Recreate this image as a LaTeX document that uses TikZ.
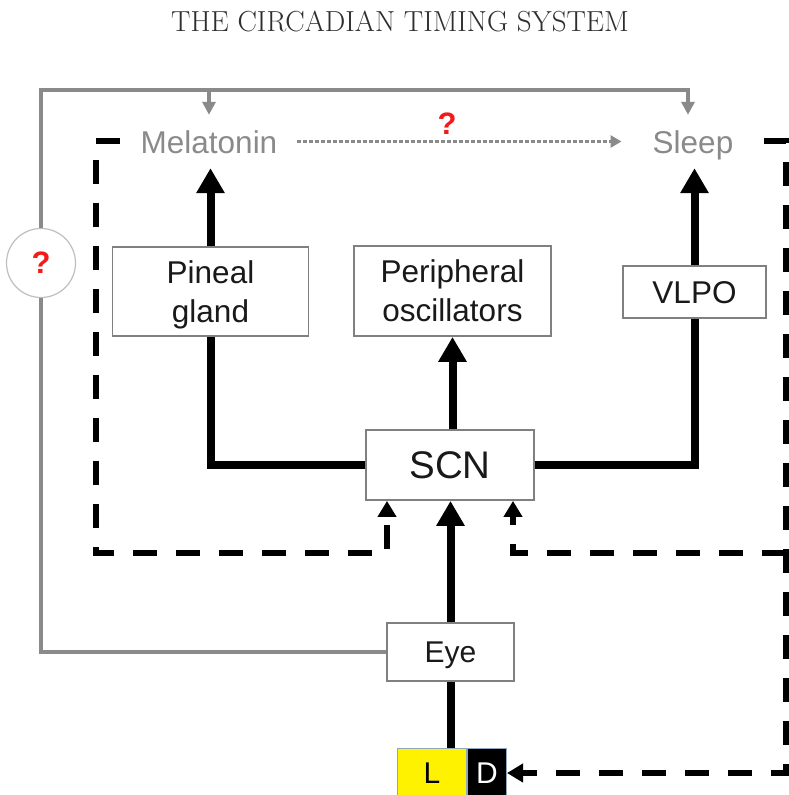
\documentclass[tikz,border=0pt]{standalone}
\usepackage{fontspec}
\newfontfamily\helv{Liberation Sans}
\usetikzlibrary{arrows.meta}
\definecolor{framegray}{HTML}{8A8A8A}
\definecolor{boxgray}{HTML}{808080}
\definecolor{titlegray}{HTML}{2E2E2E}
\definecolor{queryred}{HTML}{F21B1B}
\definecolor{ldborder}{HTML}{8FA8C0}

\begin{document}
\begin{tikzpicture}%
	[x=1pt,
	y=-1pt,
	box/.style={draw=boxgray, line width=1.8pt, inner sep=0pt, align=center, text=black!90, text depth=0pt, font=\helv\fontsize{31.5}{39}\selectfont},
	signal/.style={text=framegray, font=\helv\fontsize{31.5}{39}\selectfont, text height=23pt, text depth=0pt, inner xsep=0pt, inner ysep=15pt},
	edge/.style={line width=8pt, color=black},
	arrowedge/.style={edge, -{Triangle[length=25pt, width=27pt]}},
	feedback/.style={line width=6pt, color=black, dash pattern=on 24pt off 19pt},
	feedbackarrow/.style={feedback, -{Triangle[length=16pt, width=18pt]}},
	frame/.style={line width=3.5pt, color=framegray},
	framearrow/.style={frame, -{Triangle[length=13pt, width=13pt]}},
	hint/.style={line width=3.5pt, color=framegray, dash pattern=on 3.5pt off 2.5pt, -{Triangle[length=11pt, width=12pt]}},
	query/.style={text=queryred, font=\helv\bfseries\fontsize{31}{31}\selectfont, inner sep=0pt},
	lightdark/.style={draw=ldborder, line width=1pt, minimum height=50pt, inner sep=0pt, font=\helv\fontsize{30}{30}\selectfont, anchor=north west}]
%
\useasboundingbox (0,0) rectangle (789,795);
\fill[white] (0,0) rectangle (789,795);
%
\node[font=\fontsize{29}{32}\selectfont, text=titlegray] (title) at (400,21) {THE CIRCADIAN TIMING SYSTEM};
%%
%%
%% Outputs and boxes
%%
\node[signal] (melatonin) at (209,141.5) {Melatonin};
\node[signal] (sleep) at (693,141.5) {Sleep};
\node[query] (sleepquery) at (447,124) {?};
\node[box, minimum width=196pt, minimum height=89pt] (pineal) at (210.5,291.5) {Pineal\\gland};
\node[box, minimum width=197pt, minimum height=90pt] (periph) at (452.5,291) {Peripheral\\oscillators};
\node[box, minimum width=143pt, minimum height=52pt] (vlpo) at (694.5,292) {VLPO};
\node[box, minimum width=168pt, minimum height=70pt, font=\helv\fontsize{38.5}{40}\selectfont] (scn) at (450,465) {SCN};
\node[box, minimum width=127pt, minimum height=58pt, font=\helv\fontsize{30}{32}\selectfont] (eye) at (450.5,652) {Eye};
\node[lightdark, fill=yellow, minimum width=69pt] (light) at (397,748) {L};
\node[lightdark, fill=black, text=white, minimum width=39pt] (dark) at (light.north east) {D};
\node[query, circle, draw=black!25, line width=1.2pt, minimum size=69pt, fill=white] (qcircle) at (41,263) {?};
%
\coordinate (meldrop) at (209,90);
\coordinate (sleepdrop) at (688,90);
\coordinate (melbar) at (120,141);
\coordinate (leftbend) at (96,141);
\coordinate (leftcorner) at (96,553);
\coordinate (scnleft) at (387,553);
\coordinate (sleepbar) at (764,141);
\coordinate (rightbend) at (786,141);
\coordinate (rightcorner) at (786,773);
\coordinate (rightbranch) at (786,553);
\coordinate (scnright) at (513,553);
%%
%%
%% Drawing the gray loop
%%
\draw[frame] (eye.west) -| (qcircle.south);
\draw[framearrow] (qcircle.north) |- (sleepdrop) -- (sleepdrop |- sleep.north);
\draw[framearrow] (meldrop) -- (melatonin.north);
\draw[hint, shorten <=20pt, shorten >=31pt] (melatonin.east) -- (sleep.west);
%%
%%
%% Drawing the feedback (dashed)
%%
\draw[feedbackarrow] (melbar) -- (leftbend) -- (leftcorner) -- (scnleft) -- (scnleft |- scn.south);
\draw[feedbackarrow] (sleepbar) -- (rightbend) -- (rightcorner) -- (rightcorner -| dark.east);
\draw[feedbackarrow] (rightbranch) -- (scnright) -- (scnright |- scn.south);
%%
%%
%% Drawing the pathways
%%
\draw[arrowedge] (pineal.north) -- (pineal.north |- melatonin.south);
\draw[arrowedge] (vlpo.north) -- (vlpo.north |- sleep.south);
\draw[edge] (scn.west) -| (pineal.south);
\draw[edge] (scn.east) -| (vlpo.south);
\draw[arrowedge] (scn.north -| periph.south) -- (periph.south);
\draw[arrowedge] (eye.north) -- (eye.north |- scn.south);
\draw[edge] (eye.south) -- (eye.south |- light.north);

\end{tikzpicture}
\end{document}
